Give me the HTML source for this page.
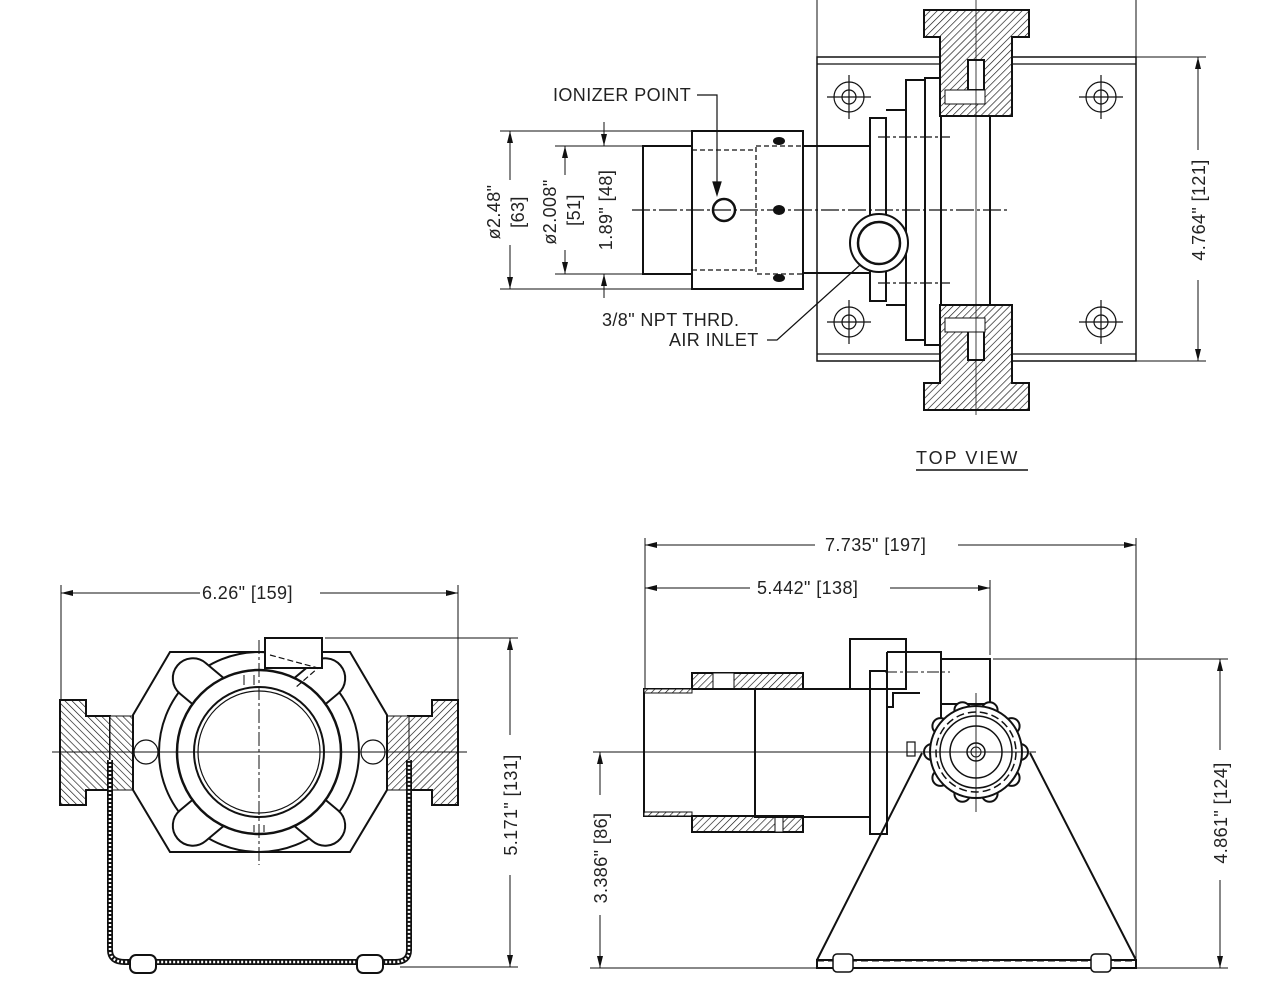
<!DOCTYPE html>
<html><head><meta charset="utf-8"><style>
html,body{margin:0;padding:0;background:#fff;}
svg{display:block;}
text{font-family:"Liberation Sans",sans-serif;font-size:18px;fill:#222;letter-spacing:0.4px;}
</style></head><body>
<svg width="1280" height="1000" viewBox="0 0 1280 1000" xmlns="http://www.w3.org/2000/svg">
<defs>
<pattern id="h" width="5" height="5" patternUnits="userSpaceOnUse" patternTransform="rotate(45)">
<rect width="5" height="5" fill="#fff"/><line x1="0" y1="0" x2="0" y2="5" stroke="#111" stroke-width="1.3"/></pattern>
<pattern id="h2" width="5" height="5" patternUnits="userSpaceOnUse" patternTransform="rotate(-45)">
<rect width="5" height="5" fill="#fff"/><line x1="0" y1="0" x2="0" y2="5" stroke="#111" stroke-width="1.3"/></pattern>
<marker id="a" markerWidth="12" markerHeight="6" refX="12" refY="3" orient="auto" markerUnits="userSpaceOnUse"><path d="M0,0 L12,3 L0,6z" fill="#111"/></marker>
</defs>
<g fill="none" stroke="#111" stroke-width="1">
<line x1="817" y1="0" x2="817" y2="57"/><line x1="1136" y1="0" x2="1136" y2="57"/>
<line x1="1136" y1="57" x2="1206" y2="57"/><line x1="1136" y1="361" x2="1206" y2="361"/>
<line x1="1198" y1="150" x2="1198" y2="57" marker-end="url(#a)"/>
<line x1="1198" y1="280" x2="1198" y2="361" marker-end="url(#a)"/>
<line x1="500" y1="131" x2="692" y2="131"/><line x1="500" y1="289" x2="692" y2="289"/>
<line x1="555" y1="146" x2="643" y2="146"/><line x1="555" y1="274" x2="643" y2="274"/>
<line x1="510" y1="180" x2="510" y2="131" marker-end="url(#a)"/>
<line x1="510" y1="245" x2="510" y2="289" marker-end="url(#a)"/>
<line x1="565" y1="175" x2="565" y2="146" marker-end="url(#a)"/>
<line x1="565" y1="250" x2="565" y2="274" marker-end="url(#a)"/>
<line x1="604" y1="122" x2="604" y2="146" marker-end="url(#a)"/>
<line x1="604" y1="298" x2="604" y2="274" marker-end="url(#a)"/>
</g>
<g fill="none" stroke="#111" stroke-width="2">
<rect x="817" y="57" width="319" height="304" stroke-width="1.5"/>
<line x1="817" y1="64" x2="1136" y2="64" stroke-width="1.2"/>
<line x1="817" y1="354" x2="1136" y2="354" stroke-width="1.2"/>
<rect x="643" y="146" width="49" height="128"/>
<rect x="692" y="131" width="111" height="158"/>
<rect x="756" y="146" width="47" height="128" stroke-dasharray="5,3" stroke-width="1.3"/>
<line x1="692" y1="150" x2="756" y2="150" stroke-dasharray="5,3" stroke-width="1.3"/>
<line x1="692" y1="270" x2="756" y2="270" stroke-dasharray="5,3" stroke-width="1.3"/>
<ellipse cx="779" cy="141" rx="5" ry="3" fill="#111"/><ellipse cx="779" cy="210" rx="5" ry="4" fill="#111"/><ellipse cx="779" cy="278" rx="5" ry="3" fill="#111"/>
<rect x="803" y="146" width="67" height="127"/>
<rect x="870" y="118" width="16" height="183"/>
<path d="M886 110 H906 V305 H886"/>
<rect x="906" y="80" width="19" height="260"/>
<rect x="925" y="78" width="16" height="267"/>
<rect x="941" y="116" width="49" height="189"/>
<circle cx="879" cy="243" r="29" fill="#fff"/>
<circle cx="879" cy="243" r="21" stroke-width="2.5"/>
<circle cx="724" cy="210" r="11" stroke-width="2.5"/>
<path d="M924 10 H1029 V37 H1012 V116 H940 V37 H924Z" fill="url(#h)"/>
<path d="M924 410 H1029 V383 H1012 V305 H940 V383 H924Z" fill="url(#h)"/>
<rect x="968" y="60" width="16" height="30" fill="#fff"/>
<rect x="968" y="330" width="16" height="30" fill="#fff"/>
<rect x="945" y="90" width="40" height="14" fill="#fff" stroke-width="1"/>
<rect x="945" y="318" width="40" height="14" fill="#fff" stroke-width="1"/>
</g>
<g fill="none" stroke="#111" stroke-width="1.2">
<circle cx="849" cy="97" r="15"/><circle cx="849" cy="97" r="7"/>
<circle cx="1101" cy="97" r="15"/><circle cx="1101" cy="97" r="7"/>
<circle cx="849" cy="322" r="15"/><circle cx="849" cy="322" r="7"/>
<circle cx="1101" cy="322" r="15"/><circle cx="1101" cy="322" r="7"/>
<path d="M827 97h44M849 75v44M1079 97h44M1101 75v44M827 322h44M849 300v44M1079 322h44M1101 300v44"/>
<line x1="632" y1="210" x2="1010" y2="210" stroke-dasharray="18,3,3,3"/>
<line x1="976" y1="0" x2="976" y2="415" stroke-width="0.8"/>
<line x1="878" y1="137" x2="950" y2="137" stroke-dasharray="12,3,3,3"/>
<line x1="878" y1="283" x2="950" y2="283" stroke-dasharray="12,3,3,3"/>
<path d="M697 95 H717 V190" /><path d="M713 182 L717 195 L721 182z" fill="#111"/>
<path d="M767 340 H777 L860 265"/>
</g>
<text x="553" y="101">IONIZER POINT</text>
<text x="602" y="326">3/8" NPT THRD.</text>
<text x="669" y="346">AIR INLET</text>
<text x="916" y="464" font-size="21" style="letter-spacing:2px">TOP VIEW</text>
<line x1="916" y1="470" x2="1028" y2="470" stroke="#111" stroke-width="1.5"/>
<text transform="translate(1205,210) rotate(-90)" text-anchor="middle">4.764" [121]</text>
<text transform="translate(500,212) rotate(-90)" text-anchor="middle">ø2.48"</text>
<text transform="translate(524,212) rotate(-90)" text-anchor="middle">[63]</text>
<text transform="translate(556,212) rotate(-90)" text-anchor="middle">ø2.008"</text>
<text transform="translate(580,210) rotate(-90)" text-anchor="middle">[51]</text>
<text transform="translate(612,210) rotate(-90)" text-anchor="middle">1.89" [48]</text>

<!-- FRONT VIEW -->
<g fill="none" stroke="#111" stroke-width="1">
<line x1="61" y1="585" x2="61" y2="700"/><line x1="458" y1="585" x2="458" y2="700"/>
<line x1="200" y1="593" x2="61" y2="593" marker-end="url(#a)"/>
<line x1="320" y1="593" x2="458" y2="593" marker-end="url(#a)"/>
<line x1="325" y1="638" x2="518" y2="638"/><line x1="400" y1="967" x2="518" y2="967"/>
<line x1="510" y1="735" x2="510" y2="638" marker-end="url(#a)"/>
<line x1="510" y1="875" x2="510" y2="967" marker-end="url(#a)"/>
</g>
<text x="202" y="599">6.26" [159]</text>
<text transform="translate(517,805) rotate(-90)" text-anchor="middle">5.171" [131]</text>
<g fill="none" stroke="#111" stroke-width="2">
<path d="M60 700 H86 V716 H110 V790 H86 V805 H60Z" fill="url(#h2)"/>
<path d="M458 700 H432 V716 H408 V790 H432 V805 H458Z" fill="url(#h)"/>
<rect x="110" y="716" width="25" height="74" fill="url(#h2)" stroke-width="1"/>
<rect x="384" y="716" width="25" height="74" fill="url(#h)" stroke-width="1"/>
<path d="M110 760 V950 Q110 962 125 962 H395 Q409 962 409 950 V760" stroke-width="6"/>
<path d="M110 760 V950 Q110 962 125 962 H395 Q409 962 409 950 V760" stroke="#fff" stroke-width="2.5" stroke-dasharray="2,2"/>
<rect x="130" y="955" width="26" height="18" rx="6" fill="#fff"/>
<rect x="357" y="955" width="26" height="18" rx="6" fill="#fff"/>
<path d="M170 652 H350 L387 715 V790 L350 852 H170 L133 790 V715Z" fill="#fff"/>
<circle cx="259" cy="752" r="100" fill="#fff"/>
<g fill="#fff">
<rect x="170" y="666" width="64" height="40" rx="20" transform="rotate(40 202 686)"/>
<rect x="284" y="666" width="64" height="40" rx="20" transform="rotate(-40 316 686)"/>
<rect x="170" y="798" width="64" height="40" rx="20" transform="rotate(-40 202 818)"/>
<rect x="284" y="798" width="64" height="40" rx="20" transform="rotate(40 316 818)"/>
</g>
<circle cx="259" cy="752" r="82" fill="#fff" stroke-width="2.5"/>
<circle cx="259" cy="752" r="65"/>
<circle cx="259" cy="752" r="61" stroke-width="1.2"/>
<rect x="265" y="638" width="57" height="30" fill="#fff"/>
<circle cx="146" cy="752" r="12" fill="#fff" stroke-width="1.2"/>
<circle cx="373" cy="752" r="12" fill="#fff" stroke-width="1.2"/>
<path d="M244 675 V685 M254 675 V685 M254 825 V832 M264 825 V832" stroke-width="1"/>
<path d="M270 655 L318 668 L295 688" stroke-width="1.2" stroke-dasharray="6,3"/>
</g>
<g fill="none" stroke="#111" stroke-width="1">
<line x1="52" y1="752" x2="467" y2="752"/>
<line x1="259" y1="640" x2="259" y2="865" stroke-dasharray="14,3,3,3"/>
</g>

<!-- SIDE VIEW -->
<g fill="none" stroke="#111" stroke-width="1">
<line x1="645" y1="538" x2="645" y2="688"/><line x1="1136" y1="538" x2="1136" y2="960"/>
<line x1="990" y1="580" x2="990" y2="655"/>
<line x1="815" y1="545" x2="645" y2="545" marker-end="url(#a)"/>
<line x1="958" y1="545" x2="1136" y2="545" marker-end="url(#a)"/>
<line x1="750" y1="588" x2="645" y2="588" marker-end="url(#a)"/>
<line x1="890" y1="588" x2="990" y2="588" marker-end="url(#a)"/>
<line x1="993" y1="659" x2="1228" y2="659"/><line x1="590" y1="968" x2="820" y2="968"/><line x1="1130" y1="968" x2="1228" y2="968"/>
<line x1="593" y1="752" x2="900" y2="752"/>
<line x1="1220" y1="750" x2="1220" y2="659" marker-end="url(#a)"/>
<line x1="1220" y1="880" x2="1220" y2="968" marker-end="url(#a)"/>
<line x1="600" y1="795" x2="600" y2="752" marker-end="url(#a)"/>
<line x1="600" y1="915" x2="600" y2="968" marker-end="url(#a)"/>
</g>
<text x="825" y="551">7.735" [197]</text>
<text x="757" y="594">5.442" [138]</text>
<text transform="translate(1227,813) rotate(-90)" text-anchor="middle">4.861" [124]</text>
<text transform="translate(607,858) rotate(-90)" text-anchor="middle">3.386" [86]</text>
<g fill="none" stroke="#111" stroke-width="2">
<rect x="692" y="673" width="111" height="16" fill="url(#h)"/>
<rect x="713" y="673" width="21" height="16" fill="#fff" stroke-width="1"/>
<rect x="692" y="816" width="111" height="16" fill="url(#h)"/>
<rect x="775" y="816" width="8" height="16" fill="#fff" stroke-width="1"/>
<rect x="644" y="689" width="111" height="127"/>
<rect x="644" y="689" width="48" height="4" fill="url(#h)" stroke-width="1"/>
<rect x="644" y="812" width="48" height="4" fill="url(#h)" stroke-width="1"/>
<rect x="755" y="689" width="115" height="128"/>
<rect x="850" y="639" width="56" height="50"/>
<rect x="870" y="671" width="17" height="163"/>
<path d="M887 652 H941 V720 M887 652 V707 H893 V693 H920"/>
<rect x="941" y="659" width="49" height="45"/>
<path d="M817 960 L922 753 M1136 960 L1030 753"/>
<rect x="817" y="960" width="319" height="8"/>
<line x1="817" y1="961" x2="1136" y2="961" stroke-dasharray="7,4" stroke-width="1"/>
<rect x="833" y="954" width="20" height="18" rx="4" fill="#fff" stroke-width="1.5"/>
<rect x="1091" y="954" width="20" height="18" rx="4" fill="#fff" stroke-width="1.5"/>
</g>
<!-- knob -->
<g stroke="#111" stroke-width="2" fill="#fff">
<circle cx="1020" cy="752" r="8"/><circle cx="1011.6" cy="777.9" r="8"/><circle cx="989.6" cy="793.8" r="8"/>
<circle cx="962.4" cy="793.8" r="8"/><circle cx="940.4" cy="777.9" r="8"/><circle cx="932" cy="752" r="8"/>
<circle cx="940.4" cy="726.1" r="8"/><circle cx="962.4" cy="710.2" r="8"/><circle cx="989.6" cy="710.2" r="8"/>
<circle cx="1011.6" cy="726.1" r="8"/>
<circle cx="976" cy="752" r="46"/>
</g>
<g fill="none" stroke="#111" stroke-width="1.5">
<circle cx="976" cy="752" r="40" stroke-dasharray="8,4"/>
<circle cx="976" cy="752" r="36"/>
<circle cx="976" cy="752" r="26"/>
<circle cx="976" cy="752" r="9"/>
<circle cx="976" cy="752" r="5" stroke-width="1"/>
<rect x="907" y="742" width="8" height="14" stroke-width="1.2"/>
</g>
<g stroke="#111" stroke-width="0.9" fill="none">
<line x1="976" y1="693" x2="976" y2="812"/><line x1="900" y1="752" x2="1036" y2="752"/>
<line x1="885" y1="672" x2="950" y2="672" stroke-dasharray="12,3,3,3"/>
</g>
</svg>
</body></html>
